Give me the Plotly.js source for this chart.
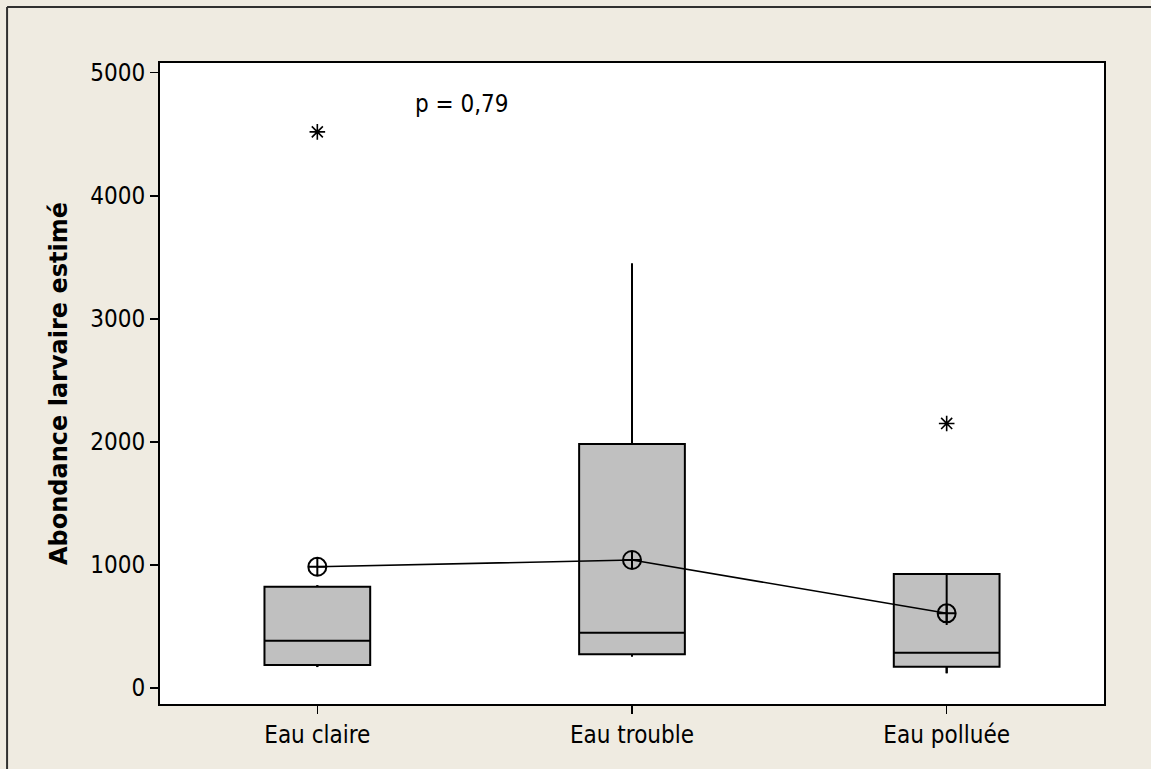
<!DOCTYPE html>
<html>
<head>
<meta charset="utf-8">
<script src="https://cdn.plot.ly/plotly-3.0.1.min.js"></script>
<style>
  html, body { margin: 0; padding: 0; background: #EFEBE1; }
  #chart { width: 1151px; height: 769px; }
</style>
</head>
<body>
<div id="chart"></div>
<script>
// Data
var categories = ["Eau claire", "Eau trouble", "Eau polluée"];
var q1 = [187, 274, 173];
var medians = [384, 449, 287];
var q3 = [823, 1982, 926];
var lowerWhisker = [170, 255, 120];
var upperWhisker = [835, 3450, 512];
var means = [985, 1040, 607];
var outlierX = ["Eau claire", "Eau polluée"];
var outlierY = [4519, 2150];
var yTicks = [0, 1000, 2000, 3000, 4000, 5000];
var pText = "p = 0,79";
var yTitle = "Abondance larvaire estimé";

var FONT = "'DejaVu Sans Condensed', 'DejaVu Sans', Tahoma, sans-serif";
var TITLE_FONT = "'DejaVu Sans', Tahoma, sans-serif";

// Whisker segments (Minitab draws whisker from Q3 to the upper adjacent value, even when it lies below Q3)
var wx = [], wy = [];
for (var i = 0; i < categories.length; i++) {
  wx.push(categories[i], categories[i], null, categories[i], categories[i], null);
  wy.push(q3[i], upperWhisker[i], null, q1[i], lowerWhisker[i], null);
}

var traces = [
  {
    type: "box",
    x: categories,
    q1: q1,
    median: medians,
    q3: q3,
    lowerfence: lowerWhisker,
    upperfence: upperWhisker,
    width: 0.336,
    whiskerwidth: 0,
    fillcolor: "#C0C0C0",
    line: { color: "#000000", width: 2 },
    boxpoints: false,
    hoverinfo: "skip",
    showlegend: false
  },
  {
    type: "scatter",
    mode: "lines",
    x: wx,
    y: wy,
    connectgaps: false,
    line: { color: "#000000", width: 2 },
    hoverinfo: "skip",
    showlegend: false
  },
  {
    type: "scatter",
    mode: "lines+markers",
    x: categories,
    y: means,
    line: { color: "#000000", width: 1.6 },
    marker: { symbol: "circle-cross-open", size: 18, color: "#000000", line: { width: 2, color: "#000000" } },
    hoverinfo: "skip",
    showlegend: false
  },
  {
    type: "scatter",
    mode: "markers",
    x: outlierX,
    y: outlierY,
    marker: { symbol: "asterisk-open", size: 13, color: "#000000", line: { width: 1.6, color: "#000000" } },
    hoverinfo: "skip",
    showlegend: false
  }
];

var layout = {
  width: 1151,
  height: 769,
  margin: { l: 160, r: 47, t: 63, b: 65, pad: 0 },
  paper_bgcolor: "#EFEBE1",
  plot_bgcolor: "#FFFFFF",
  font: { family: FONT, size: 24, color: "#000000" },
  showlegend: false,
  xaxis: {
    type: "category",
    range: [-0.5, 2.5],
    showline: true,
    mirror: true,
    linecolor: "#000000",
    linewidth: 2,
    ticks: "outside",
    ticklen: 8,
    tickwidth: 1.5,
    tickcolor: "#000000",
    showgrid: false,
    zeroline: false,
    tickfont: { family: FONT, size: 24 },
    fixedrange: true
  },
  yaxis: {
    range: [-130, 5079],
    tickvals: yTicks,
    ticktext: yTicks.map(String),
    showline: true,
    mirror: true,
    linecolor: "#000000",
    linewidth: 2,
    ticks: "outside",
    ticklen: 8,
    tickwidth: 1.5,
    tickcolor: "#000000",
    showgrid: false,
    zeroline: false,
    tickfont: { family: FONT, size: 24 },
    title: { text: "<b>" + yTitle + "</b>", font: { family: TITLE_FONT, size: 24 }, standoff: 16 },
    fixedrange: true
  },
  annotations: [
    {
      text: pText,
      xref: "paper", yref: "paper",
      x: 0.32, y: 0.936,
      xanchor: "center", yanchor: "middle",
      showarrow: false,
      font: { family: FONT, size: 24, color: "#000000" }
    }
  ],
  shapes: [
    {
      type: "line", xref: "paper", yref: "paper",
      x0: -0.162, x1: 1.2, y0: 1.0874, y1: 1.0874,
      line: { color: "#303030", width: 2 }
    },
    {
      type: "line", xref: "paper", yref: "paper",
      x0: -0.162, x1: -0.162, y0: -0.2, y1: 1.0874,
      line: { color: "#303030", width: 2 }
    }
  ]
};

Plotly.newPlot("chart", traces, layout, { displayModeBar: false, staticPlot: true });
</script>
</body>
</html>
